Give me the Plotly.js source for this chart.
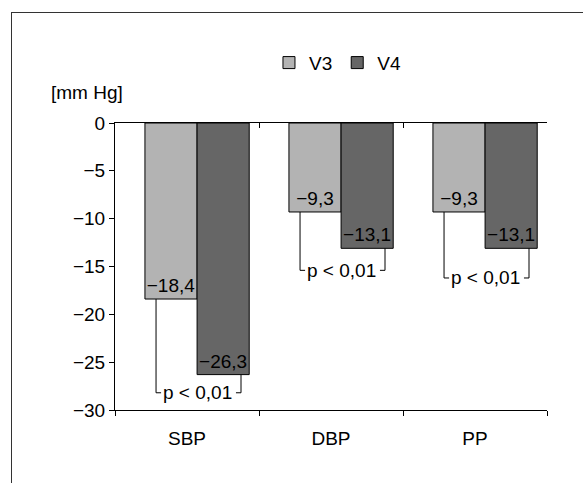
<!DOCTYPE html>
<html>
<head>
<meta charset="utf-8">
<script src="https://cdn.plot.ly/plotly-3.0.1.min.js"></script>
<style>
  html, body { margin: 0; padding: 0; background: #fff; }
  #wrap { position: relative; width: 583px; height: 483px; overflow: hidden; }
  #chart { position: absolute; left: 0; top: 0; width: 583px; height: 483px; }
  #frame { position: absolute; left: 11px; top: 12px; width: 600px; height: 500px;
           border-top: 1px solid #333; border-left: 1px solid #333; pointer-events: none; }
</style>
</head>
<body>
<div id="wrap">
  <div id="chart"></div>
  <div id="frame"></div>
</div>
<script>
// ---- data ----
const categories = ['SBP', 'DBP', 'PP'];
const seriesNames = ['V3', 'V4'];
const v3Values = [-18.4, -9.3, -9.3];
const v4Values = [-26.3, -13.1, -13.1];
const pLabels = ['p < 0,01', 'p < 0,01', 'p < 0,01'];
const yTicks = [-30, -25, -20, -15, -10, -5, 0];
const yUnit = '[mm Hg]';

// ---- styles / positions ----
const FONT = '"Liberation Sans", Arial, sans-serif';
const FS = 19;
const colV3 = '#b3b3b3';
const colV4 = '#666666';
const barWidth = 0.362;
const offV3 = -0.292;
const offV4 = 0.07;
const bracketBottom = [-28.2, -15.4, -16.2];
const bracketLeft = -0.215;
const bracketRight = 0.375;
const hook = 0.035;

function fmt(v) {
  return (v < 0 ? '\u2212' : '') + Math.abs(v).toFixed(1).replace('.', ',');
}

const barCommon = {
  type: 'bar',
  x: categories,
  width: barWidth,
  textposition: 'inside',
  insidetextanchor: 'end',
  textangle: 0,
  constraintext: 'none',
  textfont: { family: FONT, size: FS, color: '#000' },
  hoverinfo: 'skip',
  cliponaxis: false
};

const traces = [
  Object.assign({}, barCommon, {
    name: seriesNames[0], y: v3Values, offset: offV3,
    text: v3Values.map(fmt),
    marker: { color: colV3, line: { color: '#000', width: 1 } }
  }),
  Object.assign({}, barCommon, {
    name: seriesNames[1], y: v4Values, offset: offV4,
    text: v4Values.map(fmt),
    marker: { color: colV4, line: { color: '#000', width: 1 } }
  }),
  {
    type: 'scatter', x: categories, y: categories.map(() => null),
    xaxis: 'x2', showlegend: false, hoverinfo: 'skip', mode: 'markers'
  }
];

const shapes = [];
const annotations = [];
categories.forEach((c, i) => {
  const xl = i + bracketLeft, xr = i + bracketRight, yb = bracketBottom[i];
  shapes.push({
    type: 'path', xref: 'x', yref: 'y',
    path: `M ${xl} ${v3Values[i]} L ${xl} ${yb} L ${xl + hook} ${yb}`,
    line: { color: '#000', width: 1 }
  });
  shapes.push({
    type: 'path', xref: 'x', yref: 'y',
    path: `M ${xr} ${v4Values[i]} L ${xr} ${yb} L ${xr - hook} ${yb}`,
    line: { color: '#000', width: 1 }
  });
  annotations.push({
    x: (xl + xr) / 2 - 0.005, y: yb, xref: 'x', yref: 'y',
    text: pLabels[i], showarrow: false, xanchor: 'center', yanchor: 'middle',
    font: { family: FONT, size: FS, color: '#000' }
  });
});
annotations.push({
  x: -0.065, y: 1.108, xref: 'paper', yref: 'paper',
  text: yUnit, showarrow: false, xanchor: 'center', yanchor: 'middle',
  font: { family: FONT, size: FS, color: '#000' }
});

const layout = {
  width: 583, height: 483,
  margin: { l: 115, r: 36, t: 123, b: 73 },
  paper_bgcolor: '#fff', plot_bgcolor: '#fff',
  font: { family: FONT, size: FS, color: '#000' },
  barmode: 'group',
  showlegend: true,
  legend: {
    orientation: 'h', x: 0.515, y: 1.21, xanchor: 'center', yanchor: 'middle',
    font: { family: FONT, size: FS, color: '#000' },
    itemwidth: 30, tracegroupgap: 0, bgcolor: 'rgba(0,0,0,0)'
  },
  xaxis: {
    type: 'category', categoryarray: categories,
    showline: true, linecolor: '#000', linewidth: 1,
    ticks: 'outside', ticklen: 5, tickcolor: '#000', tickson: 'boundaries',
    showgrid: false, zeroline: false, fixedrange: true,
    ticklabelstandoff: 11,
    tickfont: { family: FONT, size: FS, color: '#000' }
  },
  xaxis2: {
    type: 'category', overlaying: 'x', matches: 'x', side: 'top', anchor: 'y',
    showline: true, linecolor: '#000', linewidth: 1,
    ticks: 'inside', ticklen: 5, tickcolor: '#000', tickson: 'boundaries',
    showticklabels: false, showgrid: false, zeroline: false
  },
  yaxis: {
    range: [-30, 0], tickvals: yTicks,
    showline: true, linecolor: '#000', linewidth: 1,
    ticks: 'outside', ticklen: 5, tickcolor: '#000',
    showgrid: false, zeroline: false, fixedrange: true,
    tickfont: { family: FONT, size: FS, color: '#000' }
  },
  shapes: shapes,
  annotations: annotations
};

Plotly.newPlot('chart', traces, layout, { displayModeBar: false, staticPlot: true });
</script>
</body>
</html>
